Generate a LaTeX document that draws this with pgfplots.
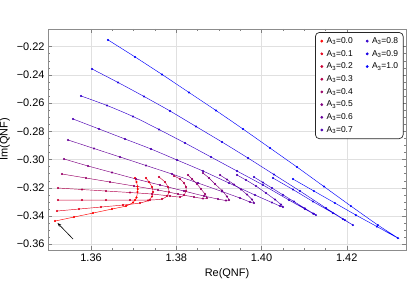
\documentclass[border=0pt]{standalone}
\usepackage{fontspec}
\setmainfont{Liberation Sans}
\usepackage{pgfplots}
\pgfplotsset{compat=1.18}
\usetikzlibrary{arrows.meta}
\pgfplotsset{qnf/.style={color=#1, mark=*, mark size=0.8bp, line width=0.45bp, smooth, tension=0.4, mark options={solid, fill=#1, draw=#1}}}
\begin{document}
\begin{tikzpicture}
\useasboundingbox (0,0) rectangle (409bp,307bp);
\begin{axis}[
  at={(48bp,57bp)}, anchor=south west,
  scale only axis, width=358bp, height=221bp,
  xmin=1.3499, xmax=1.4339, ymin=-0.3641, ymax=-0.2075,
  xtick={1.36,1.38,1.40,1.42}, xticklabels={1.36,1.38,1.40,1.42},
  ytick={-0.36,-0.34,-0.32,-0.30,-0.28,-0.26,-0.24,-0.22},
  yticklabels={−0.36,−0.34,−0.32,−0.30,−0.28,−0.26,−0.24,−0.22},
  minor x tick num=3, minor y tick num=3,
  tick align=inside, major tick length=4bp, minor tick length=2.2bp,
  axis line style={black!45, line width=0.5bp},
  tick style={black!50, line width=0.4bp},
  grid=major, major grid style={black!12, line width=0.4bp},
  tick label style={font=\fontsize{11}{13}\selectfont},
  label style={font=\fontsize{11}{13}\selectfont},
  xlabel={Re(QNF)}, ylabel={Im(QNF)},
  legend columns=2,
  legend cell align=left,
  legend image code/.code={\path[#1, mark size=1.15bp] plot[only marks, mark=*] coordinates {(0.12cm,0cm)}; \path[draw=none,fill=none] (0cm,0cm) (0.22cm,0cm);},
  legend style={at={(0.746,0.986)}, anchor=north west, draw=black!85, rounded corners=4bp,
    line width=0.7bp, font=\fontsize{8.5}{10}\selectfont, inner xsep=3bp, inner ysep=3bp,
    row sep=1.3bp, /tikz/every even column/.append style={column sep=9bp}},
]
\addplot[qnf=red, forget plot] coordinates {
(1.35156,-0.34358) (1.35601,-0.34074) (1.36047,-0.33791) (1.36492,-0.33507)
(1.36821,-0.33294) (1.36985,-0.33046) (1.37032,-0.32869) (1.37067,-0.32692)
(1.37090,-0.32302) (1.37095,-0.32089) (1.37090,-0.31912) (1.37067,-0.31593) (1.37032,-0.31309)};
\addplot[qnf=red!90!blue, forget plot] coordinates {
(1.35203,-0.33649) (1.35719,-0.33507) (1.36235,-0.33365) (1.36750,-0.33223)
(1.37149,-0.33082) (1.37337,-0.32904) (1.37430,-0.32621) (1.37454,-0.32302)
(1.37430,-0.31947) (1.37360,-0.31593) (1.37290,-0.31309)};
\addplot[qnf=red!80!blue, forget plot] coordinates {
(1.35226,-0.32869) (1.35789,-0.32869) (1.36352,-0.32869) (1.36915,-0.32869)
(1.37384,-0.32869) (1.37665,-0.32798) (1.37782,-0.32585) (1.37829,-0.32302)
(1.37806,-0.31947) (1.37735,-0.31593) (1.37595,-0.31238)};
\addplot[qnf=red!70!blue, forget plot] coordinates {
(1.35226,-0.32018) (1.35789,-0.32125) (1.36352,-0.32231) (1.36915,-0.32337)
(1.37430,-0.32444) (1.37853,-0.32585) (1.38087,-0.32656) (1.38181,-0.32514)
(1.38228,-0.32231) (1.38228,-0.31947) (1.38181,-0.31664) (1.38087,-0.31380) (1.37946,-0.31167)};
\addplot[qnf=red!60!blue, forget plot] coordinates {
(1.35320,-0.31026) (1.35883,-0.31309) (1.36446,-0.31593) (1.37008,-0.31876)
(1.37571,-0.32160) (1.38040,-0.32444) (1.38415,-0.32656) (1.38626,-0.32763)
(1.38720,-0.32727) (1.38673,-0.32444) (1.38580,-0.32089) (1.38486,-0.31735)
(1.38368,-0.31380) (1.38275,-0.31096)};
\addplot[qnf=red!50!blue, forget plot] coordinates {
(1.35367,-0.29962) (1.35930,-0.30458) (1.36492,-0.30919) (1.37055,-0.31380)
(1.37618,-0.31805) (1.38181,-0.32231) (1.38650,-0.32585) (1.38978,-0.32798)
(1.39166,-0.32904) (1.39236,-0.32869) (1.39189,-0.32621) (1.39072,-0.32195)
(1.38908,-0.31735) (1.38767,-0.31309) (1.38626,-0.30955)};
\addplot[qnf=red!40!blue, forget plot] coordinates {
(1.35461,-0.28615) (1.36070,-0.29218) (1.36680,-0.29820) (1.37290,-0.30423)
(1.37899,-0.31026) (1.38509,-0.31664) (1.39072,-0.32266) (1.39494,-0.32727)
(1.39729,-0.33011) (1.39822,-0.33082) (1.39776,-0.32834) (1.39658,-0.32479)
(1.39518,-0.32125) (1.39353,-0.31770) (1.39189,-0.31416) (1.39025,-0.31096)};
\addplot[qnf=red!30!blue, forget plot] coordinates {
(1.35578,-0.27126) (1.36188,-0.27835) (1.36797,-0.28544) (1.37407,-0.29253)
(1.38017,-0.30033) (1.38626,-0.30813) (1.39236,-0.31664) (1.39846,-0.32514)
(1.40244,-0.33046) (1.40432,-0.33294) (1.40502,-0.33365) (1.40456,-0.33188)
(1.40315,-0.32834) (1.40104,-0.32373) (1.39869,-0.31876) (1.39635,-0.31451) (1.39424,-0.31096)};
\addplot[qnf=red!20!blue, forget plot] coordinates {
(1.35766,-0.25495) (1.36375,-0.26169) (1.36985,-0.26949) (1.37595,-0.27871)
(1.38204,-0.28828) (1.38814,-0.29820) (1.39424,-0.30813) (1.40033,-0.31805)
(1.40643,-0.32869) (1.41018,-0.33507) (1.41206,-0.33826) (1.41276,-0.33932)
(1.41229,-0.33848) (1.41018,-0.33458) (1.40760,-0.32975) (1.40502,-0.32500)
(1.40244,-0.32018) (1.40033,-0.31628) (1.39822,-0.31238)};
\addplot[qnf=red!10!blue, forget plot] coordinates {
(1.36023,-0.23581) (1.36633,-0.24538) (1.37243,-0.25531) (1.37853,-0.26559)
(1.38462,-0.27658) (1.39072,-0.28757) (1.39682,-0.29891) (1.40291,-0.31061)
(1.40901,-0.32231) (1.41511,-0.33436) (1.41956,-0.34287) (1.42144,-0.34642)
(1.41909,-0.34216) (1.41675,-0.33791) (1.41206,-0.32975) (1.40737,-0.32125) (1.40268,-0.31309)};
\addplot[qnf=blue, forget plot] coordinates {
(1.36399,-0.21525) (1.37032,-0.22730) (1.37665,-0.23971) (1.38298,-0.25247)
(1.38931,-0.26523) (1.39564,-0.27835) (1.40198,-0.29182) (1.40831,-0.30529)
(1.41464,-0.31912) (1.42097,-0.33294) (1.42730,-0.34642) (1.43199,-0.35563)
(1.42707,-0.34748) (1.42214,-0.33932) (1.41722,-0.33082) (1.41229,-0.32231) (1.40737,-0.31380)};
\addlegendimage{qnf=red}\addlegendentry{A\textsubscript{3}=0.0}
\addlegendimage{qnf=red!20!blue}\addlegendentry{A\textsubscript{3}=0.8}
\addlegendimage{qnf=red!90!blue}\addlegendentry{A\textsubscript{3}=0.1}
\addlegendimage{qnf=red!10!blue}\addlegendentry{A\textsubscript{3}=0.9}
\addlegendimage{qnf=red!80!blue}\addlegendentry{A\textsubscript{3}=0.2}
\addlegendimage{qnf=blue}\addlegendentry{A\textsubscript{3}=1.0}
\addlegendimage{qnf=red!70!blue}\addlegendentry{A\textsubscript{3}=0.3}
\addlegendimage{empty legend}\addlegendentry{}
\addlegendimage{qnf=red!60!blue}\addlegendentry{A\textsubscript{3}=0.4}
\addlegendimage{empty legend}\addlegendentry{}
\addlegendimage{qnf=red!50!blue}\addlegendentry{A\textsubscript{3}=0.5}
\addlegendimage{empty legend}\addlegendentry{}
\addlegendimage{qnf=red!40!blue}\addlegendentry{A\textsubscript{3}=0.6}
\addlegendimage{empty legend}\addlegendentry{}
\addlegendimage{qnf=red!30!blue}\addlegendentry{A\textsubscript{3}=0.7}
\addlegendimage{empty legend}\addlegendentry{}
\draw[-{Stealth[length=4bp,width=3bp]}, black, line width=0.6bp] (axis cs:1.35578,-0.35634) -- (axis cs:1.35214,-0.34500);
\end{axis}
\end{tikzpicture}
\end{document}
